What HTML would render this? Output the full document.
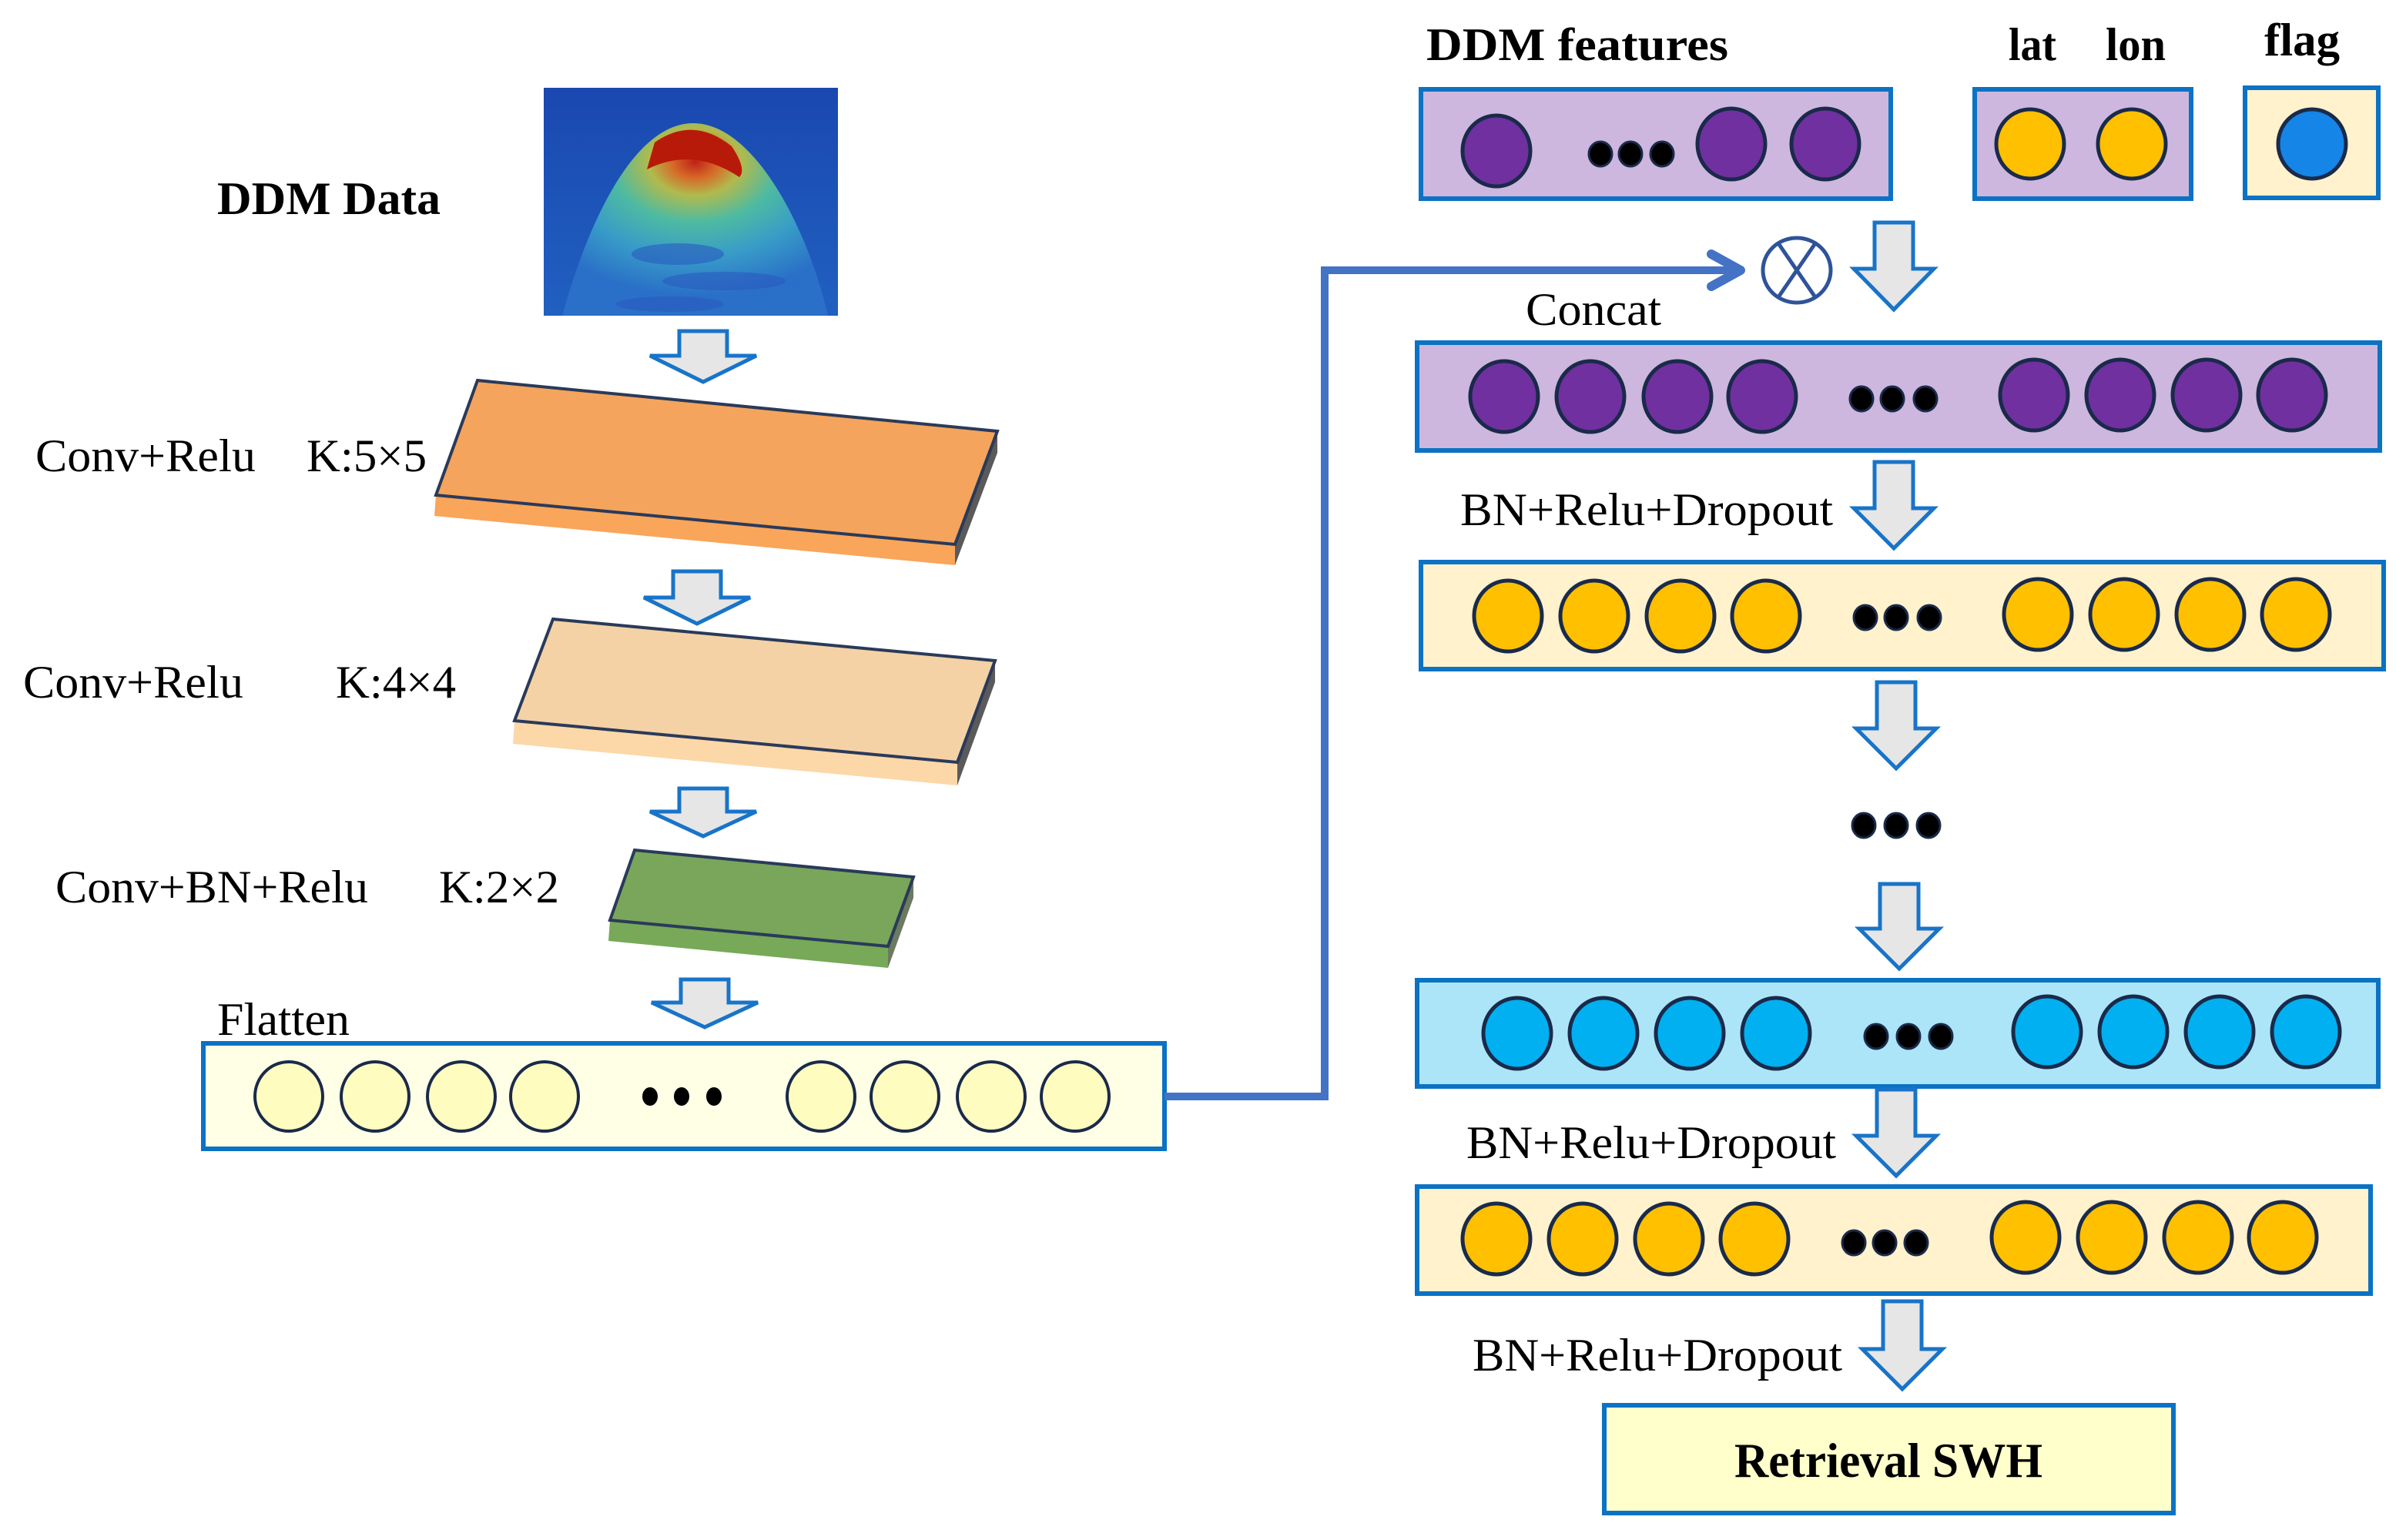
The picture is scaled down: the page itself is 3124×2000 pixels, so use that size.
<!DOCTYPE html>
<html><head><meta charset="utf-8"><style>html,body{margin:0;padding:0;background:#fff}svg{display:block}</style></head>
<body>
<svg width="3124" height="2000" viewBox="0 0 3124 2000" xmlns="http://www.w3.org/2000/svg" font-family="'Liberation Serif', serif">
<defs>
<radialGradient id="hot" cx="0.5" cy="0.2" r="0.7">
<stop offset="0" stop-color="#c62010"/><stop offset="0.12" stop-color="#e06a20"/><stop offset="0.25" stop-color="#b8c048"/><stop offset="0.45" stop-color="#50c0a0"/><stop offset="0.7" stop-color="#3aa0c8"/><stop offset="1" stop-color="#2a70c8"/>
</radialGradient>
<linearGradient id="bg" x1="0" y1="0" x2="0" y2="1"><stop offset="0" stop-color="#1a48b0"/><stop offset="1" stop-color="#2060c0"/></linearGradient>
</defs>

<!-- DDM image -->
<rect x="706" y="114" width="382" height="296" fill="url(#bg)"/>
<path d="M730 410 C 760 300, 820 160, 900 160 C 980 160, 1050 300, 1075 410 Z" fill="url(#hot)" opacity="0.95"/>
<path d="M850 185 Q 900 150 950 190 Q 970 220 960 230 Q 900 190 840 220 Z" fill="#b81a0a"/>
<ellipse cx="880" cy="330" rx="60" ry="14" fill="#2a5ac0" opacity="0.6"/>
<ellipse cx="940" cy="365" rx="80" ry="12" fill="#2a5ac0" opacity="0.6"/>
<ellipse cx="870" cy="395" rx="70" ry="10" fill="#2a5ac0" opacity="0.6"/>

<g font-size="60" fill="#000">
<text x="282" y="278" font-weight="bold" textLength="290" lengthAdjust="spacingAndGlyphs">DDM Data</text>
<text x="46" y="612" textLength="286" lengthAdjust="spacingAndGlyphs">Conv+Relu</text>
<text x="398" y="612" textLength="156" lengthAdjust="spacingAndGlyphs">K:5×5</text>
<text x="30" y="906" textLength="286" lengthAdjust="spacingAndGlyphs">Conv+Relu</text>
<text x="436" y="906" textLength="156" lengthAdjust="spacingAndGlyphs">K:4×4</text>
<text x="72" y="1172" textLength="406" lengthAdjust="spacingAndGlyphs">Conv+BN+Relu</text>
<text x="570" y="1172" textLength="156" lengthAdjust="spacingAndGlyphs">K:2×2</text>
<text x="282" y="1344" textLength="172" lengthAdjust="spacingAndGlyphs">Flatten</text>
</g>

<!-- left arrows -->
<g fill="#e6e6e6" stroke="#1874c8" stroke-width="5">
<path d="M882 430 H944 V462 H982 L913 496 L844 462 H882 Z"/>
<path d="M874 742 H936 V776 H974 L905 810 L836 776 H874 Z"/>
<path d="M882 1024 H944 V1054 H982 L913 1086 L844 1054 H882 Z"/>
<path d="M884 1272 H946 V1302 H984 L915 1334 L846 1302 H884 Z"/>
</g>

<!-- slab 1 -->
<path d="M566 643 L1240 707 L1240 734 L564 670 Z" fill="#f9a55a"/>
<path d="M1295 560 L1295 588 L1240 734 L1240 707 Z" fill="#5a5a5a"/>
<path d="M620 494 L1295 560 L1240 707 L566 643 Z" fill="#f4a45c" stroke="#2a3a5a" stroke-width="4"/>
<!-- slab 2 -->
<path d="M668 936 L1243 990 L1243 1020 L666 966 Z" fill="#fcd7a8"/>
<path d="M1292 858 L1292 886 L1243 1020 L1243 990 Z" fill="#5a5a5a"/>
<path d="M718 804 L1292 858 L1243 990 L668 936 Z" fill="#f4d2a6" stroke="#2a3a5a" stroke-width="4"/>
<!-- slab 3 -->
<path d="M792 1195 L1153 1229 L1153 1257 L790 1222 Z" fill="#77a958"/>
<path d="M1186 1139 L1186 1166 L1153 1257 L1153 1229 Z" fill="#6b7a60"/>
<path d="M824 1104 L1186 1139 L1153 1229 L792 1195 Z" fill="#79a65a" stroke="#2a3a5a" stroke-width="4"/>

<!-- flatten box -->
<rect x="264" y="1355" width="1248" height="137" fill="#ffffe6" stroke="#0b72c4" stroke-width="6"/>
<g fill="#fffcc0" stroke="#1a2a4a" stroke-width="4">
<ellipse cx="375" cy="1424" rx="44" ry="45"/><ellipse cx="487" cy="1424" rx="44" ry="45"/><ellipse cx="599" cy="1424" rx="44" ry="45"/><ellipse cx="707" cy="1424" rx="44" ry="45"/>
<ellipse cx="1066" cy="1424" rx="44" ry="45"/><ellipse cx="1175" cy="1424" rx="44" ry="45"/><ellipse cx="1287" cy="1424" rx="44" ry="45"/><ellipse cx="1396" cy="1424" rx="44" ry="45"/>
</g>
<g fill="#000"><ellipse cx="844" cy="1424" rx="10" ry="12"/><ellipse cx="885" cy="1424" rx="10" ry="12"/><ellipse cx="927" cy="1424" rx="10" ry="12"/></g>

<!-- connector -->
<polyline points="1512,1424 1720,1424 1720,351 2258,351" fill="none" stroke="#4472c4" stroke-width="10"/>
<polyline points="2222,330 2260,351 2222,372" fill="none" stroke="#4472c4" stroke-width="12" stroke-linecap="round" stroke-linejoin="round"/>
<!-- otimes -->
<ellipse cx="2333" cy="351" rx="44" ry="42" fill="#fff" stroke="#2f539a" stroke-width="5"/>
<line x1="2309" y1="316" x2="2357" y2="386" stroke="#2f539a" stroke-width="5"/>
<line x1="2357" y1="316" x2="2309" y2="386" stroke="#2f539a" stroke-width="5"/>

<!-- right labels -->
<g font-size="60" fill="#000">
<text x="1852" y="78" font-weight="bold" textLength="392" lengthAdjust="spacingAndGlyphs">DDM  features</text>
<text x="2608" y="78" font-weight="bold" textLength="62" lengthAdjust="spacingAndGlyphs">lat</text>
<text x="2734" y="78" font-weight="bold" textLength="78" lengthAdjust="spacingAndGlyphs">lon</text>
<text x="2940" y="72" font-weight="bold" textLength="98" lengthAdjust="spacingAndGlyphs">flag</text>
<text x="1981" y="422" textLength="176" lengthAdjust="spacingAndGlyphs">Concat</text>
<text x="1896" y="682" textLength="484" lengthAdjust="spacingAndGlyphs">BN+Relu+Dropout</text>
<text x="1904" y="1504" textLength="480" lengthAdjust="spacingAndGlyphs">BN+Relu+Dropout</text>
<text x="1912" y="1780" textLength="480" lengthAdjust="spacingAndGlyphs">BN+Relu+Dropout</text>
</g>

<!-- boxes -->
<g stroke="#0b72c4" stroke-width="6">
<rect x="1845" y="116" width="610" height="142" fill="#cdb7de"/>
<rect x="2564" y="116" width="281" height="142" fill="#cdb7de"/>
<rect x="2915" y="114" width="173" height="143" fill="#fff2cc"/>
<rect x="1840" y="445" width="1250" height="140" fill="#cdb7de"/>
<rect x="1845" y="730" width="1250" height="139" fill="#fff2cc"/>
<rect x="1840" y="1273" width="1248" height="138" fill="#ade5f8"/>
<rect x="1840" y="1541" width="1238" height="139" fill="#fff2cc"/>
<rect x="2083" y="1825" width="739" height="140" fill="#ffffcc"/>
</g>
<text x="2452" y="1918" font-size="64" font-weight="bold" text-anchor="middle" textLength="400" lengthAdjust="spacingAndGlyphs">Retrieval SWH</text>

<g stroke="#1a2a4a" stroke-width="5">
<g fill="#7030a0">
<ellipse cx="1943" cy="196" rx="44" ry="46"/><ellipse cx="2248" cy="187" rx="44" ry="46"/><ellipse cx="2370" cy="187" rx="44" ry="46"/>
</g>
<g fill="#ffc000"><ellipse cx="2636" cy="187" rx="44" ry="45"/><ellipse cx="2768" cy="187" rx="44" ry="45"/></g>
<ellipse cx="3002" cy="187" rx="44" ry="45" fill="#1585e8"/>
<g fill="#7030a0">
<ellipse cx="1953" cy="515" rx="44" ry="46"/><ellipse cx="2065" cy="515" rx="44" ry="46"/><ellipse cx="2178" cy="515" rx="44" ry="46"/><ellipse cx="2288" cy="515" rx="44" ry="46"/>
<ellipse cx="2641" cy="513" rx="44" ry="46"/><ellipse cx="2753" cy="513" rx="44" ry="46"/><ellipse cx="2865" cy="513" rx="44" ry="46"/><ellipse cx="2976" cy="513" rx="44" ry="46"/>
</g>
<g fill="#ffc000">
<ellipse cx="1958" cy="800" rx="44" ry="46"/><ellipse cx="2070" cy="800" rx="44" ry="46"/><ellipse cx="2182" cy="800" rx="44" ry="46"/><ellipse cx="2293" cy="800" rx="44" ry="46"/>
<ellipse cx="2646" cy="798" rx="44" ry="46"/><ellipse cx="2758" cy="798" rx="44" ry="46"/><ellipse cx="2870" cy="798" rx="44" ry="46"/><ellipse cx="2981" cy="798" rx="44" ry="46"/>
</g>
<g fill="#00b0f0">
<ellipse cx="1970" cy="1342" rx="44" ry="46"/><ellipse cx="2082" cy="1342" rx="44" ry="46"/><ellipse cx="2194" cy="1342" rx="44" ry="46"/><ellipse cx="2306" cy="1342" rx="44" ry="46"/>
<ellipse cx="2658" cy="1340" rx="44" ry="46"/><ellipse cx="2770" cy="1340" rx="44" ry="46"/><ellipse cx="2882" cy="1340" rx="44" ry="46"/><ellipse cx="2994" cy="1340" rx="44" ry="46"/>
</g>
<g fill="#ffc000">
<ellipse cx="1943" cy="1609" rx="44" ry="46"/><ellipse cx="2055" cy="1609" rx="44" ry="46"/><ellipse cx="2167" cy="1609" rx="44" ry="46"/><ellipse cx="2278" cy="1609" rx="44" ry="46"/>
<ellipse cx="2630" cy="1607" rx="44" ry="46"/><ellipse cx="2742" cy="1607" rx="44" ry="46"/><ellipse cx="2854" cy="1607" rx="44" ry="46"/><ellipse cx="2964" cy="1607" rx="44" ry="46"/>
</g>
</g>
<g fill="#000" stroke="#1a2a4a" stroke-width="3">
<ellipse cx="2078" cy="200" rx="15" ry="16"/><ellipse cx="2117" cy="200" rx="15" ry="16"/><ellipse cx="2158" cy="200" rx="15" ry="16"/>
<ellipse cx="2417" cy="518" rx="15" ry="16"/><ellipse cx="2457" cy="518" rx="15" ry="16"/><ellipse cx="2500" cy="518" rx="15" ry="16"/>
<ellipse cx="2422" cy="802" rx="15" ry="16"/><ellipse cx="2462" cy="802" rx="15" ry="16"/><ellipse cx="2505" cy="802" rx="15" ry="16"/>
<ellipse cx="2420" cy="1072" rx="15" ry="16"/><ellipse cx="2462" cy="1072" rx="15" ry="16"/><ellipse cx="2504" cy="1072" rx="15" ry="16"/>
<ellipse cx="2436" cy="1346" rx="15" ry="16"/><ellipse cx="2478" cy="1346" rx="15" ry="16"/><ellipse cx="2520" cy="1346" rx="15" ry="16"/>
<ellipse cx="2407" cy="1614" rx="15" ry="16"/><ellipse cx="2447" cy="1614" rx="15" ry="16"/><ellipse cx="2488" cy="1614" rx="15" ry="16"/>
</g>

<!-- right arrows -->
<g fill="#e6e6e6" stroke="#1874c8" stroke-width="5">
<path d="M2434 289 H2484 V349 H2511 L2459 402 L2407 349 H2434 Z"/>
<path d="M2434 600 H2484 V660 H2511 L2459 712 L2407 660 H2434 Z"/>
<path d="M2437 886 H2487 V946 H2514 L2462 998 L2410 946 H2437 Z"/>
<path d="M2441 1148 H2491 V1206 H2518 L2466 1258 L2414 1206 H2441 Z"/>
<path d="M2437 1415 H2487 V1475 H2514 L2462 1527 L2410 1475 H2437 Z"/>
<path d="M2445 1690 H2495 V1752 H2522 L2470 1804 L2418 1752 H2445 Z"/>
</g>
</svg>
</body></html>
